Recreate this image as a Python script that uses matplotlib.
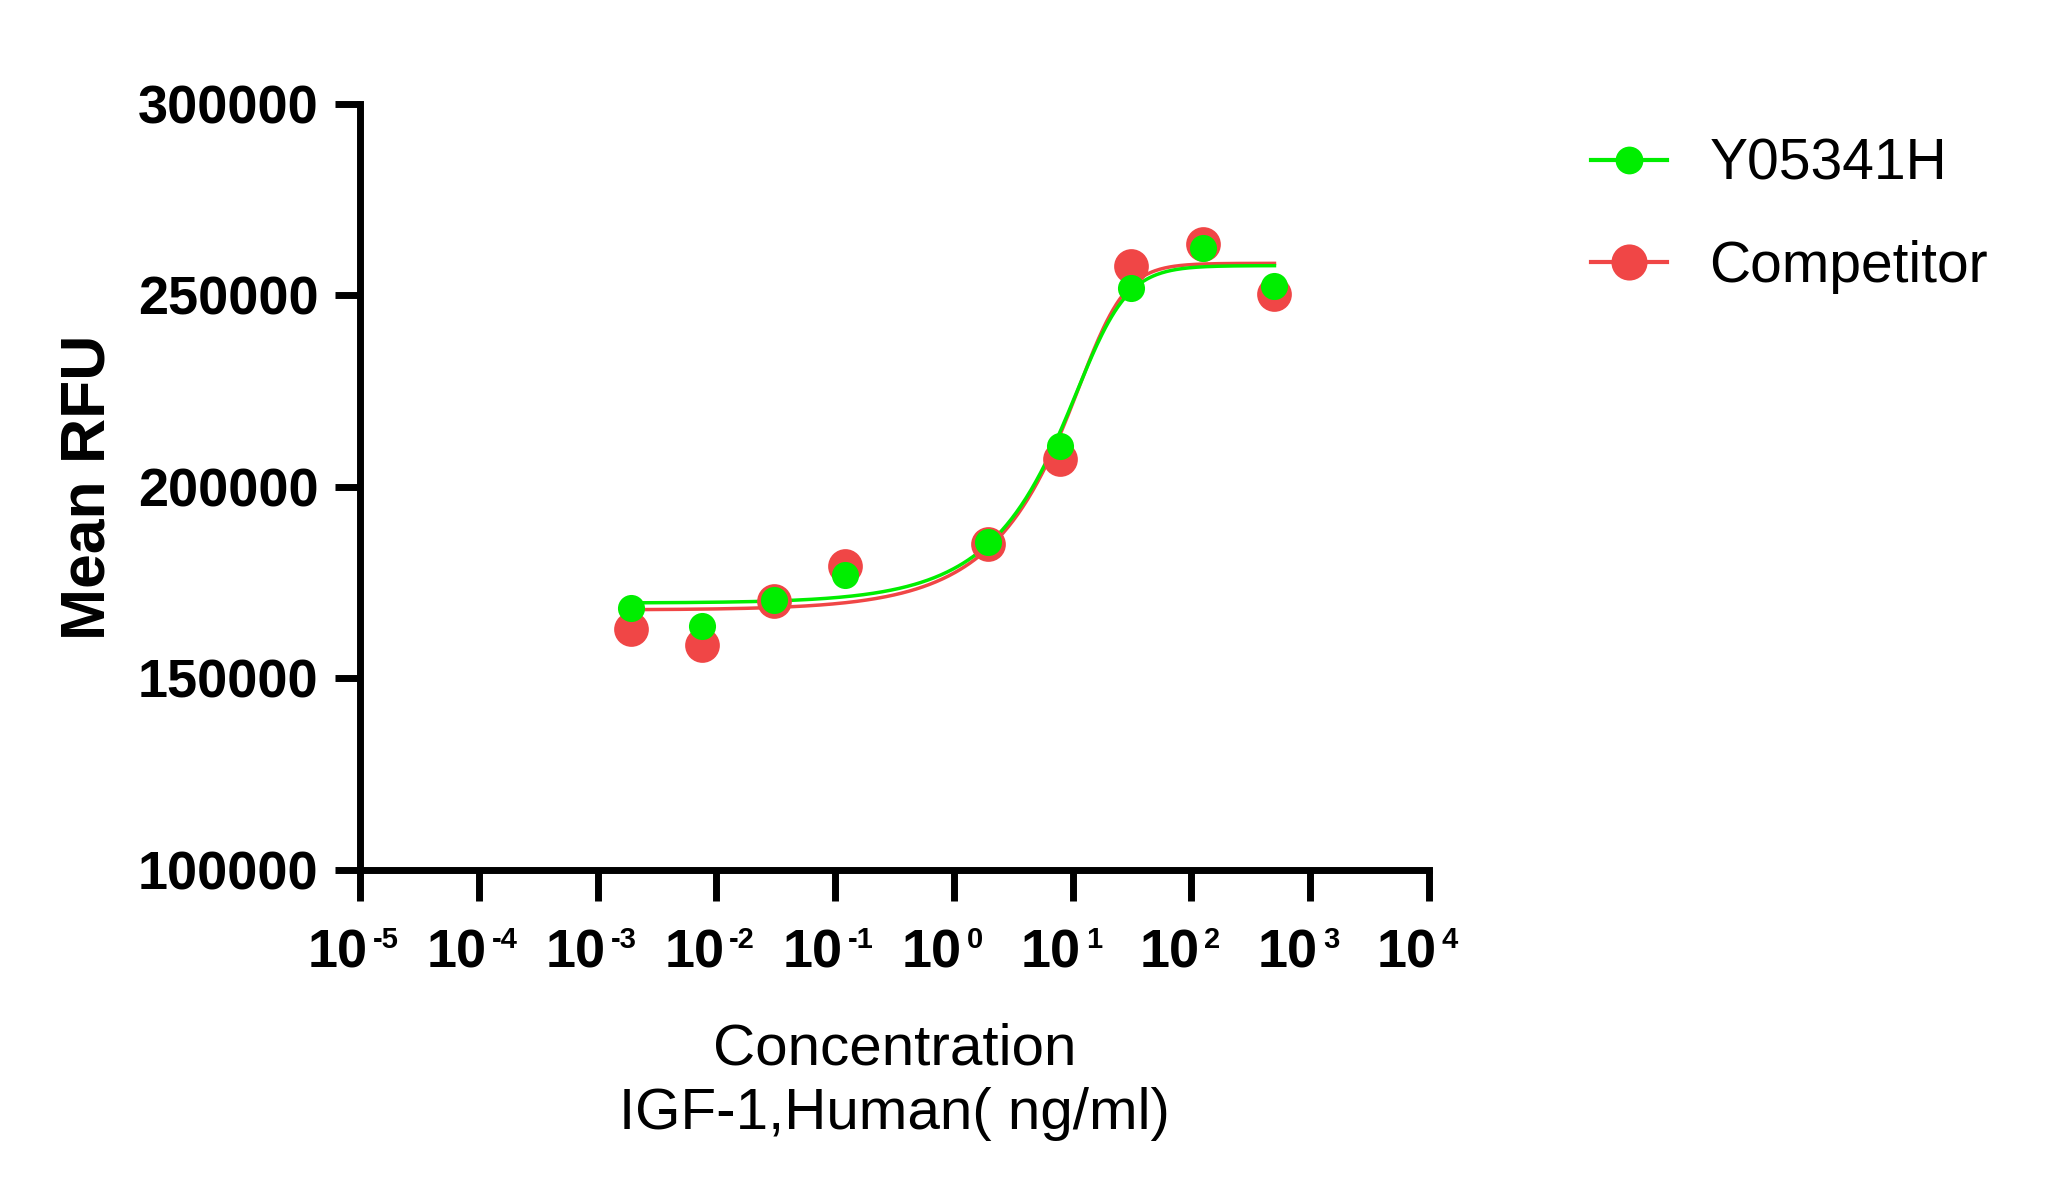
import matplotlib
matplotlib.use("Agg")
import matplotlib.pyplot as plt
import numpy as np
from matplotlib.lines import Line2D
from matplotlib.ticker import FixedLocator, NullLocator
from matplotlib.transforms import blended_transform_factory, offset_copy

# concentration of IGF-1 (ng/ml), 4-fold dilution series (one point absent)
conc = [500, 125, 31.25, 7.8125, 1.953, 0.1221, 0.0305, 0.00763, 0.00191]
y05341h = [252600, 262500, 251900, 210600, 185700, 177100, 170600, 163800, 168300]
competitor = [250500, 263500, 257700, 207200, 185000, 179500, 170300, 158700, 162800]

# fitted curve parameters: bottom, top, ec50, hill, asymmetry
fit_y05341h = (169700, 257800, 17.0, 2.3, 0.35)
fit_competitor = (167900, 258400, 18.1, 2.58, 0.30)

decades = [-5, -4, -3, -2, -1, 0, 1, 2, 3, 4]
y_ticks = [100000, 150000, 200000, 250000, 300000]

GREEN = "#00EE00"
RED = "#F04646"

plt.rcParams["font.family"] = ["Liberation Sans", "DejaVu Sans"]


def five_pl(x, bottom, top, ec50, hill, s):
    return bottom + (top - bottom) / (1 + (ec50 / x) ** hill) ** s


fig = plt.figure(figsize=(20.48, 12.04), dpi=100)
ax = fig.add_axes([360 / 2048, 334 / 1204, 1069 / 2048, 766 / 1204])

xs = np.logspace(np.log10(min(conc)), np.log10(max(conc)), 400)
ax.plot(xs, five_pl(xs, *fit_competitor), color=RED, lw=2.5, zorder=2)
ax.plot(xs, five_pl(xs, *fit_y05341h), color=GREEN, lw=2.5, zorder=3)
ax.plot(conc, competitor, ls="none", marker="o", ms=25, mew=0, color=RED, zorder=4)
ax.plot(conc, y05341h, ls="none", marker="o", ms=19.5, mew=0, color=GREEN, zorder=5)

ax.set_xscale("log")
ax.set_xlim(10.0 ** decades[0], 10.0 ** decades[-1])
ax.set_ylim(y_ticks[0], y_ticks[-1])
ax.xaxis.set_major_locator(FixedLocator([10.0 ** k for k in decades]))
ax.xaxis.set_minor_locator(NullLocator())
ax.set_xticklabels([])
ax.set_yticks(y_ticks)
ax.set_yticklabels([str(v) for v in y_ticks], fontsize=39, fontweight="bold")

for side in ("top", "right"):
    ax.spines[side].set_visible(False)
for side in ("left", "bottom"):
    ax.spines[side].set_linewidth(5)
ax.tick_params(axis="x", length=22, width=5)
ax.tick_params(axis="y", length=18, width=5, pad=12)

# x tick labels as 10 with a small raised exponent
base = blended_transform_factory(ax.transData, ax.transAxes)
for k in decades:
    ax.text(10.0 ** k, 0, "10", transform=offset_copy(base, fig=fig, x=8, y=-98, units="dots"),
            ha="right", va="baseline", fontsize=39, fontweight="bold")
    ax.text(10.0 ** k, 0, str(k), transform=offset_copy(base, fig=fig, x=13, y=-78, units="dots"),
            ha="left", va="baseline", fontsize=21, fontweight="bold")

ax.set_ylabel("Mean RFU", fontsize=45, fontweight="bold", va="center")
ax.yaxis.set_label_coords(-0.254, 0.5)

ax.set_xlabel("Concentration\nIGF-1,Human( ng/ml)", fontsize=42,
              linespacing=1.26, va="top")
ax.xaxis.set_label_coords(0.5, -0.199)

handles = [
    Line2D([], [], color=GREEN, lw=3, marker="o", ms=20, mew=0),
    Line2D([], [], color=RED, lw=3, marker="o", ms=26, mew=0),
]
fig.legend(handles, ["Y05341H", "Competitor"], loc="upper left",
           bbox_to_anchor=(1591 / 2048, 1 - 138 / 1204), frameon=False, fontsize=41,
           handlelength=1.33, handletextpad=0.75, labelspacing=0.85,
           borderaxespad=0, borderpad=0)

fig.savefig("out.png", dpi=100)
